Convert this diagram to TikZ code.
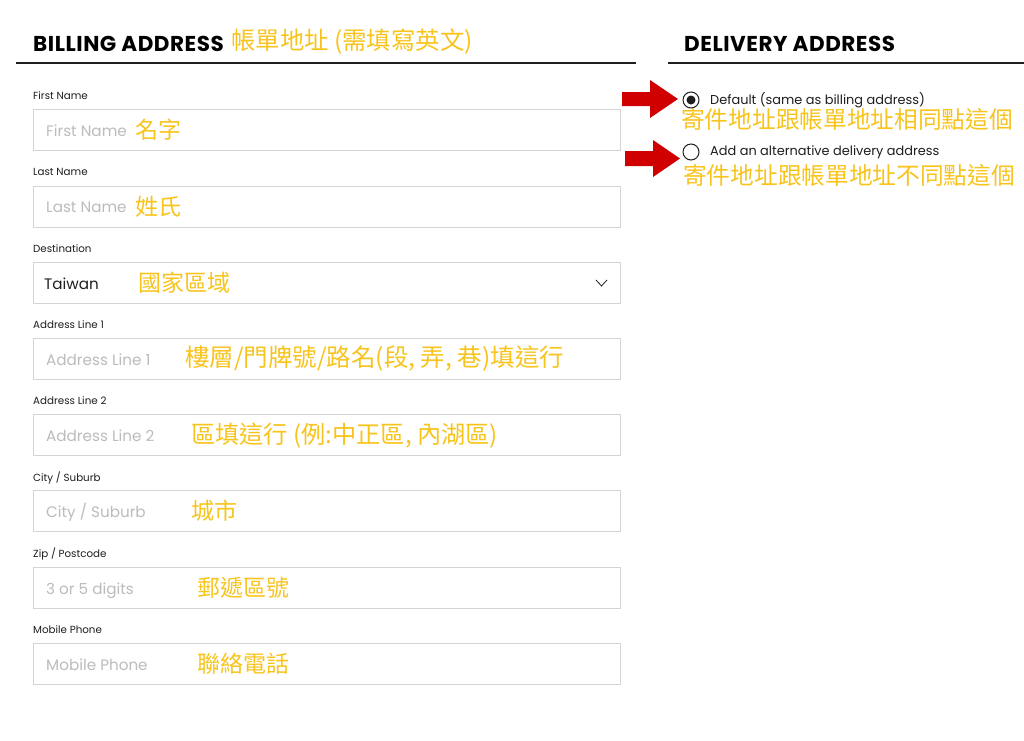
\documentclass[tikz,border=0pt]{standalone}
\usepackage{fontspec}
\setmainfont{Poppins}
\newfontfamily\headfont{Poppins}[LetterSpace=2.5]
\newfontfamily\cjk{Noto Sans CJK TC}
\usetikzlibrary{positioning}

\definecolor{ink}{RGB}{30,30,30}
\definecolor{frame}{RGB}{212,212,212}
\definecolor{hint}{RGB}{188,188,188}
\definecolor{note}{RGB}{248,196,28}
\definecolor{alert}{RGB}{208,0,0}

\tikzset{
  heading/.style={anchor=west, inner sep=0pt, text=black, font=\headfont\fontsize{21.5}{21.5}\selectfont\bfseries},
  rule/.style={draw=ink, line width=2pt},
  fieldlabel/.style={anchor=base west, inner sep=0pt, text=ink, font=\fontsize{10.3}{10.3}\selectfont},
  field/.style={draw=frame, line width=1.2pt, anchor=north west, minimum width=587pt, minimum height=41pt, inner sep=0pt},
  hinttext/.style={anchor=base west, inner sep=0pt, text=hint, font=\fontsize{15.2}{15.2}\selectfont},
  notetext/.style={anchor=west, inner sep=0pt, text=note, font=\cjk\fontsize{23}{23}\selectfont},
  radio/.style={circle, draw=ink, line width=1pt, minimum size=16pt, inner sep=0pt},
  choice/.style={anchor=base west, inner sep=0pt, text=ink, font=\fontsize{12.9}{12.9}\selectfont},
}

\begin{document}
\begin{tikzpicture}[x=1pt, y=-1pt]
	\useasboundingbox[fill=white] (0,0) rectangle (1024,740);

	% billing address
	\node[heading] (billhead) at (33,44) {BILLING ADDRESS};
	\node[notetext, font=\cjk\fontsize{24.4}{24.4}\selectfont] (billnote) at (231,42) {帳單地址 (需填寫英文)};
	\draw[rule] (16,63) -- (636,63);

	\node[fieldlabel] (firstlab) at (33,99) {First Name};
	\node[field] (firstbox) at (33,109) {};
	\node[hinttext] (firsthint) at (46,136) {First Name};
	\node[notetext] (firstnote) at (135,130) {名字};

	\node[fieldlabel] (lastlab) at (33,175.5) {Last Name};
	\node[field] (lastbox) at (33,185.5) {};
	\node[hinttext] (lasthint) at (46,212.5) {Last Name};
	\node[notetext] (lastnote) at (135,206.5) {姓氏};

	\node[fieldlabel] (destlab) at (33,252) {Destination};
	\node[field] (destbox) at (33,262) {};
	\node[hinttext, text=ink] (desthint) at (44,289) {Taiwan};
	\node[notetext] (destnote) at (138,283) {國家區域};
	\draw[ink, line width=0.8pt] (596,280) -- (601.5,286) -- (607,280);

	\node[fieldlabel] (addronelab) at (33,328) {Address Line 1};
	\node[field] (addronebox) at (33,338) {};
	\node[hinttext] (addronehint) at (46,365) {Address Line 1};
	\node[notetext, font=\cjk\fontsize{24.5}{24.5}\selectfont] (addronenote) at (185,358) {樓層/門牌號/路名(段, 弄, 巷)填這行};

	\node[fieldlabel] (addrtwolab) at (33,404.5) {Address Line 2};
	\node[field] (addrtwobox) at (33,414) {};
	\node[hinttext] (addrtwohint) at (46,441.5) {Address Line 2};
	\node[notetext, font=\cjk\fontsize{24.2}{24.2}\selectfont] (addrtwonote) at (191,435.5) {區填這行 (例:中正區, 內湖區)};

	\node[fieldlabel] (citylab) at (33,481) {City / Suburb};
	\node[field] (citybox) at (33,490) {};
	\node[hinttext] (cityhint) at (46,517.5) {City / Suburb};
	\node[notetext] (citynote) at (191,511) {城市};

	\node[fieldlabel] (ziplab) at (33,557) {Zip / Postcode};
	\node[field] (zipbox) at (33,567) {};
	\node[hinttext] (ziphint) at (46,594) {3 or 5 digits};
	\node[notetext] (zipnote) at (197,587.5) {郵遞區號};

	\node[fieldlabel] (phonelab) at (33,633) {Mobile Phone};
	\node[field] (phonebox) at (33,643) {};
	\node[hinttext] (phonehint) at (46,670) {Mobile Phone};
	\node[notetext] (phonenote) at (197,664) {聯絡電話};

	% delivery address
	\node[heading] (delhead) at (684,44) {DELIVERY ADDRESS};
	\draw[rule] (668,63) -- (1024,63);

	\fill[alert] (622,92) -- (650,92) -- (650,80) -- (678,99) -- (650,118) -- (650,106) -- (622,106) -- cycle;
	\fill[alert] (625,151) -- (653,151) -- (653,140) -- (680,158.5) -- (653,177) -- (653,166) -- (625,166) -- cycle;

	\node[radio] (optdefault) at (691,100) {};
	\fill[ink] (optdefault.center) circle (4.5);
	\node[choice] (deftext) at (710,104) {Default (same as billing address)};
	\node[notetext, font=\cjk\fontsize{23.7}{23.7}\selectfont] (defnote) at (681,119) {寄件地址跟帳單地址相同點這個};

	\node[radio] (optalt) at (691,152) {};
	\node[choice] (alttext) at (710,155.5) {Add an alternative delivery address};
	\node[notetext, font=\cjk\fontsize{23.7}{23.7}\selectfont] (altnote) at (683,175.5) {寄件地址跟帳單地址不同點這個};
\end{tikzpicture}
\end{document}
